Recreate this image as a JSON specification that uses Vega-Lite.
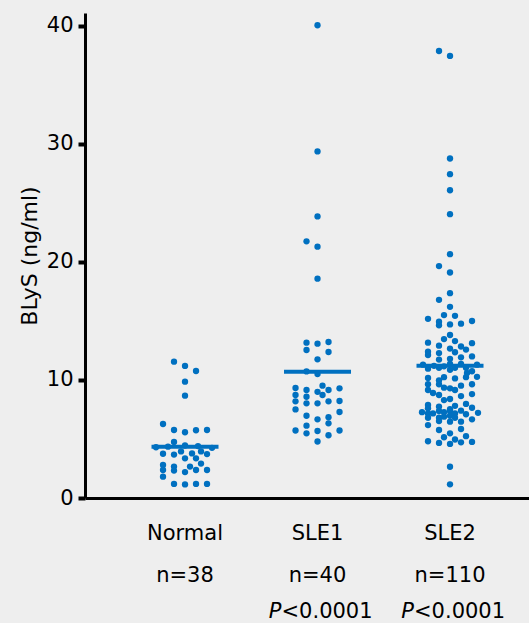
{
  "$schema": "https://vega.github.io/schema/vega-lite/v6.json",
  "width": 444,
  "height": 485,
  "autosize": {"type": "none"},
  "padding": {"left": 85, "top": 13, "right": 0, "bottom": 125},
  "background": "#eeeeee",
  "config": {"view": {"stroke": null}, "font": "DejaVu Sans"},
  "datasets": {
    "dots": [
      {"g":"Normal","o":-11,"v":11.55},{"g":"Normal","o":0,"v":11.19},{"g":"Normal","o":11,"v":10.76},{"g":"Normal","o":0,"v":9.86},{"g":"Normal","o":0,"v":8.67},
      {"g":"Normal","o":-22,"v":6.27},{"g":"Normal","o":-11,"v":5.76},{"g":"Normal","o":0,"v":5.57},{"g":"Normal","o":11,"v":5.74},{"g":"Normal","o":22,"v":5.76},
      {"g":"Normal","o":-11,"v":4.75},{"g":"Normal","o":0,"v":4.45},{"g":"Normal","o":-29,"v":4.30},{"g":"Normal","o":27,"v":4.25},{"g":"Normal","o":-17,"v":4.35},{"g":"Normal","o":13,"v":4.40},
      {"g":"Normal","o":-22,"v":3.75},{"g":"Normal","o":-11,"v":3.68},{"g":"Normal","o":-4,"v":3.95},{"g":"Normal","o":7,"v":3.78},{"g":"Normal","o":16,"v":3.95},{"g":"Normal","o":22,"v":3.72},
      {"g":"Normal","o":0,"v":3.36},{"g":"Normal","o":11,"v":3.36},{"g":"Normal","o":16,"v":2.92},{"g":"Normal","o":-22,"v":2.80},{"g":"Normal","o":-11,"v":2.66},{"g":"Normal","o":5,"v":2.66},
      {"g":"Normal","o":-22,"v":2.37},{"g":"Normal","o":-11,"v":2.32},{"g":"Normal","o":0,"v":2.20},{"g":"Normal","o":11,"v":2.37},{"g":"Normal","o":22,"v":2.37},
      {"g":"Normal","o":-22,"v":1.81},{"g":"Normal","o":-11,"v":1.19},{"g":"Normal","o":0,"v":1.15},{"g":"Normal","o":11,"v":1.19},{"g":"Normal","o":22,"v":1.19},

      {"g":"SLE1","o":0,"v":40.06},{"g":"SLE1","o":0,"v":29.37},{"g":"SLE1","o":0,"v":23.86},{"g":"SLE1","o":-11,"v":21.75},{"g":"SLE1","o":0,"v":21.30},{"g":"SLE1","o":0,"v":18.59},
      {"g":"SLE1","o":-11,"v":13.16},{"g":"SLE1","o":-11,"v":12.54},{"g":"SLE1","o":0,"v":13.08},{"g":"SLE1","o":11,"v":13.22},{"g":"SLE1","o":11,"v":12.37},{"g":"SLE1","o":0,"v":11.75},
      {"g":"SLE1","o":-11,"v":10.73},{"g":"SLE1","o":0,"v":10.5},
      {"g":"SLE1","o":-22,"v":9.32},{"g":"SLE1","o":-22,"v":8.73},{"g":"SLE1","o":-22,"v":8.19},{"g":"SLE1","o":-22,"v":7.51},
      {"g":"SLE1","o":-11,"v":9.15},{"g":"SLE1","o":-11,"v":8.58},{"g":"SLE1","o":-11,"v":8.02},
      {"g":"SLE1","o":0,"v":9.0},{"g":"SLE1","o":5,"v":9.52},{"g":"SLE1","o":5,"v":8.73},{"g":"SLE1","o":11,"v":9.15},{"g":"SLE1","o":11,"v":8.19},{"g":"SLE1","o":0,"v":8.02},
      {"g":"SLE1","o":22,"v":9.29},{"g":"SLE1","o":22,"v":8.22},{"g":"SLE1","o":22,"v":7.29},
      {"g":"SLE1","o":-11,"v":6.97},{"g":"SLE1","o":0,"v":6.67},{"g":"SLE1","o":11,"v":6.84},{"g":"SLE1","o":11,"v":6.33},{"g":"SLE1","o":-11,"v":6.13},
      {"g":"SLE1","o":-22,"v":5.72},{"g":"SLE1","o":-11,"v":5.48},{"g":"SLE1","o":0,"v":5.68},{"g":"SLE1","o":11,"v":5.32},{"g":"SLE1","o":22,"v":5.72},{"g":"SLE1","o":0,"v":4.79},

      {"g":"SLE2","o":-11,"v":37.88},{"g":"SLE2","o":0,"v":37.46},{"g":"SLE2","o":0,"v":28.77},{"g":"SLE2","o":0,"v":27.44},{"g":"SLE2","o":0,"v":26.08},{"g":"SLE2","o":0,"v":24.05},
      {"g":"SLE2","o":0,"v":20.66},{"g":"SLE2","o":-11,"v":19.65},{"g":"SLE2","o":0,"v":19.11},{"g":"SLE2","o":0,"v":17.36},{"g":"SLE2","o":-11,"v":16.79},{"g":"SLE2","o":0,"v":16.20},
      {"g":"SLE2","o":-6,"v":15.50},{"g":"SLE2","o":5,"v":15.44},{"g":"SLE2","o":-22,"v":15.18},{"g":"SLE2","o":-11,"v":14.94},{"g":"SLE2","o":-11,"v":14.64},{"g":"SLE2","o":0,"v":14.71},{"g":"SLE2","o":11,"v":14.77},{"g":"SLE2","o":22,"v":15.0},
      {"g":"SLE2","o":0,"v":13.81},{"g":"SLE2","o":-6,"v":13.47},{"g":"SLE2","o":5,"v":13.30},{"g":"SLE2","o":-22,"v":13.16},{"g":"SLE2","o":22,"v":13.12},{"g":"SLE2","o":-11,"v":12.91},
      {"g":"SLE2","o":11,"v":12.84},{"g":"SLE2","o":0,"v":12.66},{"g":"SLE2","o":16,"v":12.58},{"g":"SLE2","o":-22,"v":12.40},{"g":"SLE2","o":-22,"v":12.12},{"g":"SLE2","o":-11,"v":12.28},
      {"g":"SLE2","o":5,"v":12.35},{"g":"SLE2","o":22,"v":12.0},{"g":"SLE2","o":-11,"v":11.73},{"g":"SLE2","o":0,"v":11.79},{"g":"SLE2","o":11,"v":11.92},
      {"g":"SLE2","o":-27,"v":11.30},{"g":"SLE2","o":-22,"v":10.96},{"g":"SLE2","o":-16,"v":11.2},{"g":"SLE2","o":-11,"v":11.03},{"g":"SLE2","o":-6,"v":11.16},{"g":"SLE2","o":0,"v":11.36},
      {"g":"SLE2","o":0,"v":10.86},{"g":"SLE2","o":5,"v":11.03},{"g":"SLE2","o":11,"v":11.36},{"g":"SLE2","o":16,"v":11.03},{"g":"SLE2","o":27,"v":11.30},{"g":"SLE2","o":22,"v":10.74},
      {"g":"SLE2","o":-22,"v":10.17},{"g":"SLE2","o":-11,"v":9.97},{"g":"SLE2","o":-6,"v":10.24},{"g":"SLE2","o":5,"v":10.13},{"g":"SLE2","o":16,"v":10.24},{"g":"SLE2","o":27,"v":10.27},
      {"g":"SLE2","o":-22,"v":9.64},{"g":"SLE2","o":-22,"v":9.15},{"g":"SLE2","o":-11,"v":9.64},{"g":"SLE2","o":-6,"v":9.35},{"g":"SLE2","o":0,"v":9.29},{"g":"SLE2","o":5,"v":9.15},{"g":"SLE2","o":11,"v":9.52},{"g":"SLE2","o":22,"v":9.64},
      {"g":"SLE2","o":-11,"v":8.73},{"g":"SLE2","o":11,"v":8.64},{"g":"SLE2","o":22,"v":8.81},{"g":"SLE2","o":-6,"v":8.30},{"g":"SLE2","o":0,"v":8.39},
      {"g":"SLE2","o":-22,"v":7.88},{"g":"SLE2","o":-22,"v":7.60},{"g":"SLE2","o":-11,"v":7.75},{"g":"SLE2","o":5,"v":7.81},{"g":"SLE2","o":16,"v":7.97},{"g":"SLE2","o":22,"v":7.65},{"g":"SLE2","o":0,"v":7.52},
      {"g":"SLE2","o":-28,"v":7.27},{"g":"SLE2","o":-22,"v":7.17},{"g":"SLE2","o":-17,"v":7.17},{"g":"SLE2","o":-11,"v":7.37},{"g":"SLE2","o":-6,"v":7.27},{"g":"SLE2","o":0,"v":7.37},
      {"g":"SLE2","o":0,"v":6.97},{"g":"SLE2","o":5,"v":7.17},{"g":"SLE2","o":11,"v":7.40},{"g":"SLE2","o":16,"v":7.10},{"g":"SLE2","o":28,"v":7.22},
      {"g":"SLE2","o":-22,"v":6.80},{"g":"SLE2","o":-11,"v":6.80},{"g":"SLE2","o":-6,"v":6.89},{"g":"SLE2","o":5,"v":6.80},{"g":"SLE2","o":22,"v":6.67},{"g":"SLE2","o":-11,"v":6.52},
      {"g":"SLE2","o":0,"v":6.47},{"g":"SLE2","o":11,"v":6.47},{"g":"SLE2","o":-22,"v":6.18},
      {"g":"SLE2","o":11,"v":5.85},{"g":"SLE2","o":-11,"v":5.76},{"g":"SLE2","o":0,"v":5.48},{"g":"SLE2","o":-6,"v":5.15},{"g":"SLE2","o":5,"v":4.96},{"g":"SLE2","o":16,"v":5.24},
      {"g":"SLE2","o":-22,"v":4.81},{"g":"SLE2","o":-11,"v":4.67},{"g":"SLE2","o":0,"v":4.58},{"g":"SLE2","o":11,"v":4.72},{"g":"SLE2","o":22,"v":4.75},
      {"g":"SLE2","o":0,"v":2.65},{"g":"SLE2","o":0,"v":1.16},{"g":"SLE2","o":-17,"v":8.9},{"g":"SLE2","o":17,"v":10.6}
    ],
    "means": [
      {"g":"Normal","m":4.35},
      {"g":"SLE1","m":10.7},
      {"g":"SLE2","m":11.2}
    ],
    "labels": [
      {"g":"Normal","n":"n=38","p":""},
      {"g":"SLE1","n":"n=40","p":"<0.0001"},
      {"g":"SLE2","n":"n=110","p":"<0.0001"}
    ]
  },
  "layer": [
    {
      "data": {"name": "dots"},
      "mark": {"type": "circle", "size": 40, "color": "#0070C0", "opacity": 1},
      "encoding": {
        "x": {
          "field": "g", "type": "nominal",
          "scale": {"domain": ["Normal", "SLE1", "SLE2"], "paddingInner": 0, "paddingOuter": 0.1755, "align": 0.726},
          "axis": {"title": null, "labels": false, "ticks": false, "grid": false, "domainColor": "black", "domainWidth": 3}
        },
        "xOffset": {"field": "o", "type": "quantitative", "scale": {"domain": [-66.25, 66.25]}},
        "y": {
          "field": "v", "type": "quantitative",
          "scale": {"domain": [0, 41.1], "nice": false, "zero": true},
          "axis": {
            "title": "BLyS (ng/ml)", "values": [0, 10, 20, 30, 40], "grid": false,
            "domainColor": "black", "domainWidth": 3,
            "tickColor": "black", "tickWidth": 4, "tickSize": 7,
            "labelFontSize": 21, "labelColor": "black", "labelPadding": 5, "labelFont": "DejaVu Sans",
            "titleFontSize": 22, "titleFontWeight": "normal", "titleColor": "black", "titlePadding": 5, "titleFont": "DejaVu Sans"
          }
        }
      }
    },
    {
      "data": {"name": "means"},
      "mark": {"type": "tick", "color": "#0070C0", "thickness": 4, "size": 67, "opacity": 1},
      "encoding": {
        "x": {"field": "g", "type": "nominal"},
        "y": {"field": "m", "type": "quantitative"}
      }
    },
    {
      "data": {"name": "labels"},
      "mark": {"type": "text", "y": "height", "dy": 42, "fontSize": 21, "color": "black", "baseline": "alphabetic", "align": "center"},
      "encoding": {
        "x": {"field": "g", "type": "nominal"},
        "text": {"field": "g"}
      }
    },
    {
      "data": {"name": "labels"},
      "mark": {"type": "text", "y": "height", "dy": 84, "fontSize": 21, "color": "black", "baseline": "alphabetic", "align": "center"},
      "encoding": {
        "x": {"field": "g", "type": "nominal"},
        "text": {"field": "n"}
      }
    },
    {
      "data": {"name": "labels"},
      "transform": [{"filter": "datum.p != ''"}],
      "mark": {"type": "text", "y": "height", "dy": 120, "dx": -36, "fontSize": 21, "fontStyle": "italic", "color": "black", "baseline": "alphabetic", "align": "right"},
      "encoding": {
        "x": {"field": "g", "type": "nominal"},
        "text": {"value": "P"}
      }
    },
    {
      "data": {"name": "labels"},
      "transform": [{"filter": "datum.p != ''"}],
      "mark": {"type": "text", "y": "height", "dy": 120, "dx": -36, "fontSize": 21, "color": "black", "baseline": "alphabetic", "align": "left"},
      "encoding": {
        "x": {"field": "g", "type": "nominal"},
        "text": {"field": "p"}
      }
    }
  ]
}
